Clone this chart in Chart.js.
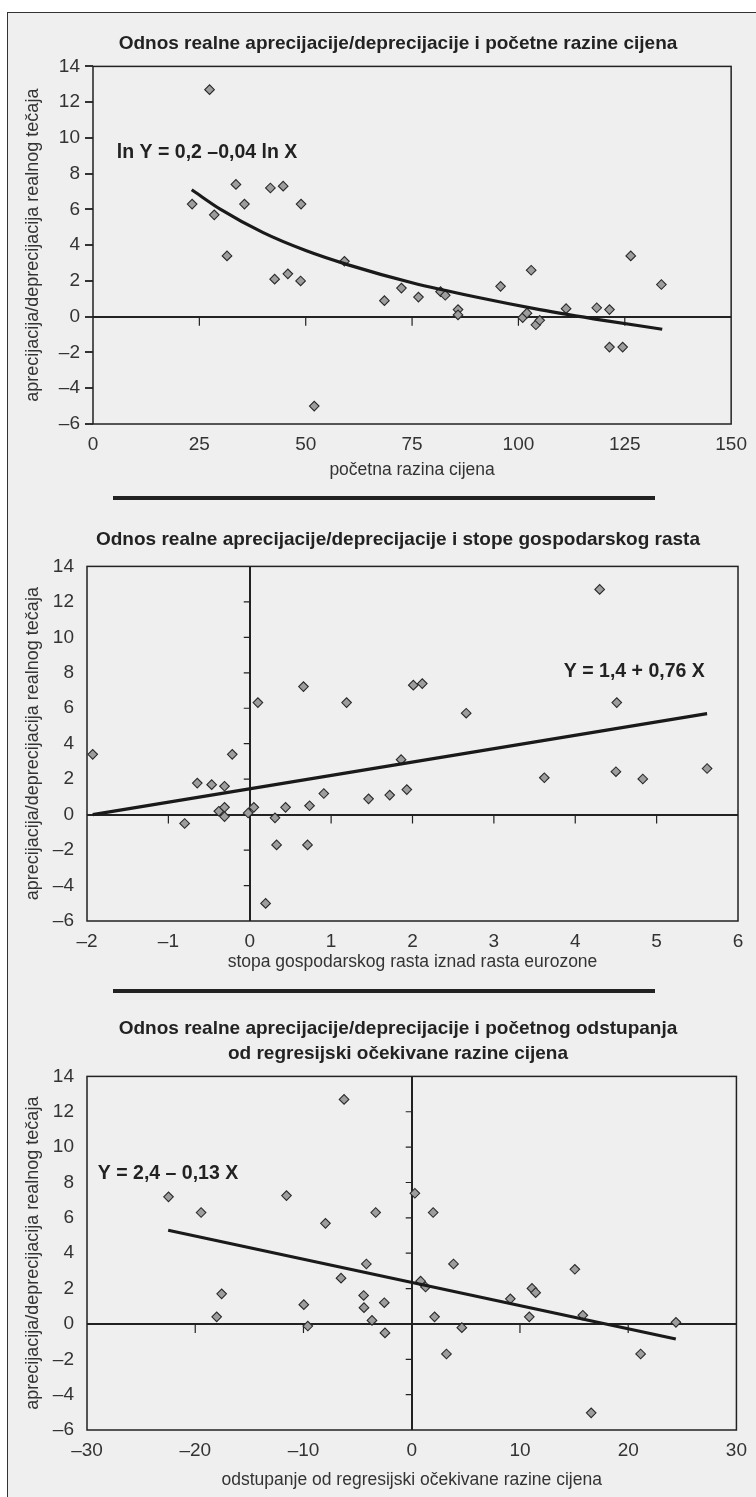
<!DOCTYPE html>
<html>
<head>
<meta charset="utf-8">
<script src="https://cdn.jsdelivr.net/npm/chart.js@4.4.1/dist/chart.umd.min.js"></script>
<style>
html, body { margin: 0; padding: 0; background: #fff; }
body { width: 756px; height: 1497px; position: relative; overflow: hidden;
       font-family: "Liberation Sans Narrow", "Liberation Sans", Arial, sans-serif; }
#frame { position: absolute; left: 7px; top: 12px; width: 760px; height: 1500px;
         background: #eeefee; border: 1.5px solid #333; box-sizing: border-box; }
.ttl { position: absolute; left: 0; width: 796px; text-align: center; font-weight: bold;
       font-size: 19px; line-height: 25px; color: #222; }
.sep { position: absolute; left: 113px; width: 542px; height: 4px; background: #222; }
canvas { position: absolute; left: 0; }
</style>
</head>
<body>
<div id="frame"></div>
<canvas id="c1" width="756" height="432" style="top:50px"></canvas>
<canvas id="c2" width="756" height="424" style="top:550px"></canvas>
<canvas id="c3" width="756" height="432" style="top:1060px"></canvas>
<div class="ttl" style="top:30px">Odnos realne aprecijacije/deprecijacije i početne razine cijena</div>
<div class="sep" style="top:496px"></div>
<div class="ttl" style="top:526px">Odnos realne aprecijacije/deprecijacije i stope gospodarskog rasta</div>
<div class="sep" style="top:989px"></div>
<div class="ttl" style="top:1015px">Odnos realne aprecijacije/deprecijacije i početnog odstupanja<br>od regresijski očekivane razine cijena</div>
<script>
const FONT = '"Liberation Sans Narrow", "Liberation Sans", Arial, sans-serif';
Chart.defaults.font.family = FONT;
Chart.defaults.color = '#333';

const yTitle = 'aprecijacija/deprecijacija realnog tečaja';
const yTicks = [-6, -4, -2, 0, 2, 4, 6, 8, 10, 12, 14];

// 1: pocetna razina cijena
const priceX = [23.3, 27.4, 28.5, 31.5, 33.6, 35.6, 41.7, 42.7, 44.7, 45.8, 48.8, 48.9, 52.0, 59.1, 68.5, 72.5, 76.5,
  81.7, 82.8, 85.8, 85.8, 95.8, 101.0, 102.0, 103.0, 104.1, 105.0, 111.2, 118.4, 121.4, 121.4, 124.5, 126.4, 133.6];
const priceY = [6.3, 12.7, 5.7, 3.4, 7.4, 6.3, 7.2, 2.1, 7.3, 2.4, 2.0, 6.3, -5.0, 3.1, 0.9, 1.6, 1.1,
  1.4, 1.2, 0.4, 0.1, 1.7, -0.05, 0.2, 2.6, -0.45, -0.2, 0.45, 0.5, 0.4, -1.7, -1.7, 3.4, 1.8];
const priceTrendX = [23.2, 30, 40, 50, 60, 75, 90, 105, 120, 133.8];
const priceTrendY = [7.1, 6.0, 4.7, 3.7, 2.9, 1.9, 1.1, 0.4, -0.2, -0.7];
const priceTicks = [0, 25, 50, 75, 100, 125, 150];

// 2: stopa gospodarskog rasta
const growthX = [-1.93, -0.80, -0.645, -0.468, -0.38, -0.31, -0.31, -0.31, -0.215, -0.02, 0.05, 0.10, 0.195, 0.31, 0.33, 0.44, 0.66,
  0.71, 0.735, 0.91, 1.19, 1.46, 1.72, 1.86, 1.93, 2.01, 2.12, 2.66, 3.62, 4.30, 4.50, 4.51, 4.83, 5.62];
const growthY = [3.4, -0.5, 1.78, 1.69, 0.19, 1.6, 0.41, -0.11, 3.4, 0.09, 0.41, 6.32, -5.01, -0.18, -1.71, 0.41, 7.22,
  -1.71, 0.5, 1.19, 6.32, 0.89, 1.1, 3.1, 1.41, 7.3, 7.39, 5.72, 2.08, 12.7, 2.42, 6.32, 2.01, 2.6];
const growthTrendX = [-1.93, 5.62];
const growthTrendY = [0.0, 5.7];
const growthTicks = [-2, -1, 0, 1, 2, 3, 4, 5, 6];

// 3: odstupanje od regresijski ocekivane razine cijena
const devX = [-22.47, -19.46, -18.02, -17.56, -11.57, -9.97, -9.60, -7.97, -6.53, -6.25, -4.44, -4.41, -4.19, -3.67, -3.33, -2.53, -2.47,
  0.29, 0.82, 1.28, 1.98, 2.11, 3.21, 3.86, 4.63, 9.11, 10.86, 11.11, 11.45, 15.07, 15.81, 16.58, 21.15, 24.41];
const devY = [7.19, 6.30, 0.40, 1.70, 7.26, 1.09, -0.12, 5.69, 2.59, 12.7, 1.61, 0.92, 3.39, 0.20, 6.30, 1.20, -0.51,
  7.39, 2.42, 2.09, 6.30, 0.40, -1.70, 3.39, -0.21, 1.42, 0.40, 2.01, 1.77, 3.09, 0.49, -5.03, -1.70, 0.09];
const devTrendX = [-22.5, 24.4];
const devTrendY = [5.3, -0.85];
const devTicks = [-30, -20, -10, 0, 10, 20, 30];

const pts = (xs, ys) => xs.map((x, i) => ({x: x, y: ys[i]}));
const dash = v => v < 0 ? '\u2013' + Math.abs(v) : String(v);

// plot box, ticks sitting on the zero lines, equation text
const boxPlugin = {
  id: 'boxPlugin',
  beforeDatasetsDraw(chart, args, o) {
    const {ctx, chartArea: a} = chart;
    const x = chart.scales.x, y = chart.scales.y;
    ctx.save();
    ctx.strokeStyle = '#222';
    ctx.lineWidth = 1.5;
    ctx.strokeRect(a.left, a.top, a.right - a.left, a.bottom - a.top);
    ctx.lineWidth = 1.2;
    ctx.beginPath();
    const y0 = y.getPixelForValue(0);
    x.ticks.forEach(t => {
      if (t.value === x.min || t.value === x.max || t.value === 0) return;
      const px = x.getPixelForValue(t.value);
      ctx.moveTo(px, y0);
      ctx.lineTo(px, y0 + 9);
    });
    if (o.innerY) {
      const x0 = x.getPixelForValue(0);
      y.ticks.forEach(t => {
        if (t.value === y.min || t.value === y.max || t.value === 0) return;
        const py = y.getPixelForValue(t.value);
        ctx.moveTo(x0 - 6, py);
        ctx.lineTo(x0, py);
      });
    }
    ctx.stroke();
    ctx.font = 'bold 19.5px ' + FONT;
    ctx.fillStyle = '#222';
    ctx.textBaseline = 'middle';
    ctx.textAlign = 'left';
    ctx.fillText(o.eq, x.getPixelForValue(o.eqX), y.getPixelForValue(o.eqY));
    ctx.restore();
  }
};

function makeChart(id, c) {
  return new Chart(document.getElementById(id), {
    type: 'scatter',
    data: {
      datasets: [{
        data: pts(c.trendX, c.trendY),
        showLine: true,
        borderColor: '#1a1a1a',
        borderWidth: 3.2,
        pointRadius: 0,
        cubicInterpolationMode: 'monotone'
      }, {
        data: pts(c.xs, c.ys),
        pointStyle: 'rectRot',
        pointRadius: 4.8,
        backgroundColor: '#9d9d9d',
        borderColor: '#2a2a2a',
        borderWidth: 1.1
      }]
    },
    options: {
      responsive: false,
      animation: false,
      layout: {padding: {top: c.padTop, right: 18, left: 0, bottom: 0}},
      plugins: {
        legend: {display: false},
        tooltip: {enabled: false},
        boxPlugin: {innerY: c.innerY, eq: c.eq, eqX: c.eqX, eqY: c.eqY}
      },
      scales: {
        x: {
          type: 'linear',
          min: c.xTicks[0],
          max: c.xTicks[c.xTicks.length - 1],
          afterBuildTicks: s => { s.ticks = c.xTicks.map(v => ({value: v})); },
          afterFit: s => { s.height = c.xHeight; },
          border: {display: false},
          grid: {
            drawTicks: false,
            color: ctx => (c.innerY && ctx.tick && ctx.tick.value === 0) ? '#222' : 'rgba(0,0,0,0)',
            lineWidth: 2
          },
          ticks: {padding: 9, font: {size: 19}, color: '#333', maxRotation: 0, autoSkip: false, callback: dash},
          title: {display: true, text: c.xTitle, font: {size: 17.5}, color: '#333', padding: {top: 0, bottom: 1}}
        },
        y: {
          type: 'linear',
          min: -6,
          max: 14,
          afterBuildTicks: s => { s.ticks = yTicks.map(v => ({value: v})); },
          afterFit: s => { s.width = c.yWidth; },
          border: {display: false},
          grid: {
            drawTicks: true,
            tickLength: 8,
            tickColor: c.innerY ? 'rgba(0,0,0,0)' : '#333',
            color: ctx => (ctx.tick && ctx.tick.value === 0) ? '#222' : 'rgba(0,0,0,0)',
            lineWidth: 2
          },
          ticks: {padding: 5, font: {size: 19}, color: '#333', autoSkip: false, callback: dash},
          title: {display: true, text: yTitle, font: {size: 18}, color: '#333', padding: {top: 22, bottom: 0}}
        }
      }
    },
    plugins: [boxPlugin]
  });
}

makeChart('c1', {
  xs: priceX, ys: priceY, trendX: priceTrendX, trendY: priceTrendY, xTicks: priceTicks,
  xTitle: 'početna razina cijena', padTop: 13, xHeight: 58, yWidth: 93, innerY: false,
  eq: 'ln Y = 0,2 \u20130,04 ln X', eqX: 5.6, eqY: 9.2
});
makeChart('c2', {
  xs: growthX, ys: growthY, trendX: growthTrendX, trendY: growthTrendY, xTicks: growthTicks,
  xTitle: 'stopa gospodarskog rasta iznad rasta eurozone', padTop: 12, xHeight: 53, yWidth: 87, innerY: true,
  eq: 'Y = 1,4 + 0,76 X', eqX: 3.86, eqY: 8.06
});
makeChart('c3', {
  xs: devX, ys: devY, trendX: devTrendX, trendY: devTrendY, xTicks: devTicks,
  xTitle: 'odstupanje od regresijski očekivane razine cijena', padTop: 11, xHeight: 62, yWidth: 87, innerY: true,
  eq: 'Y = 2,4 \u2013 0,13 X', eqX: -29.0, eqY: 8.52
});
</script>
</body>
</html>
